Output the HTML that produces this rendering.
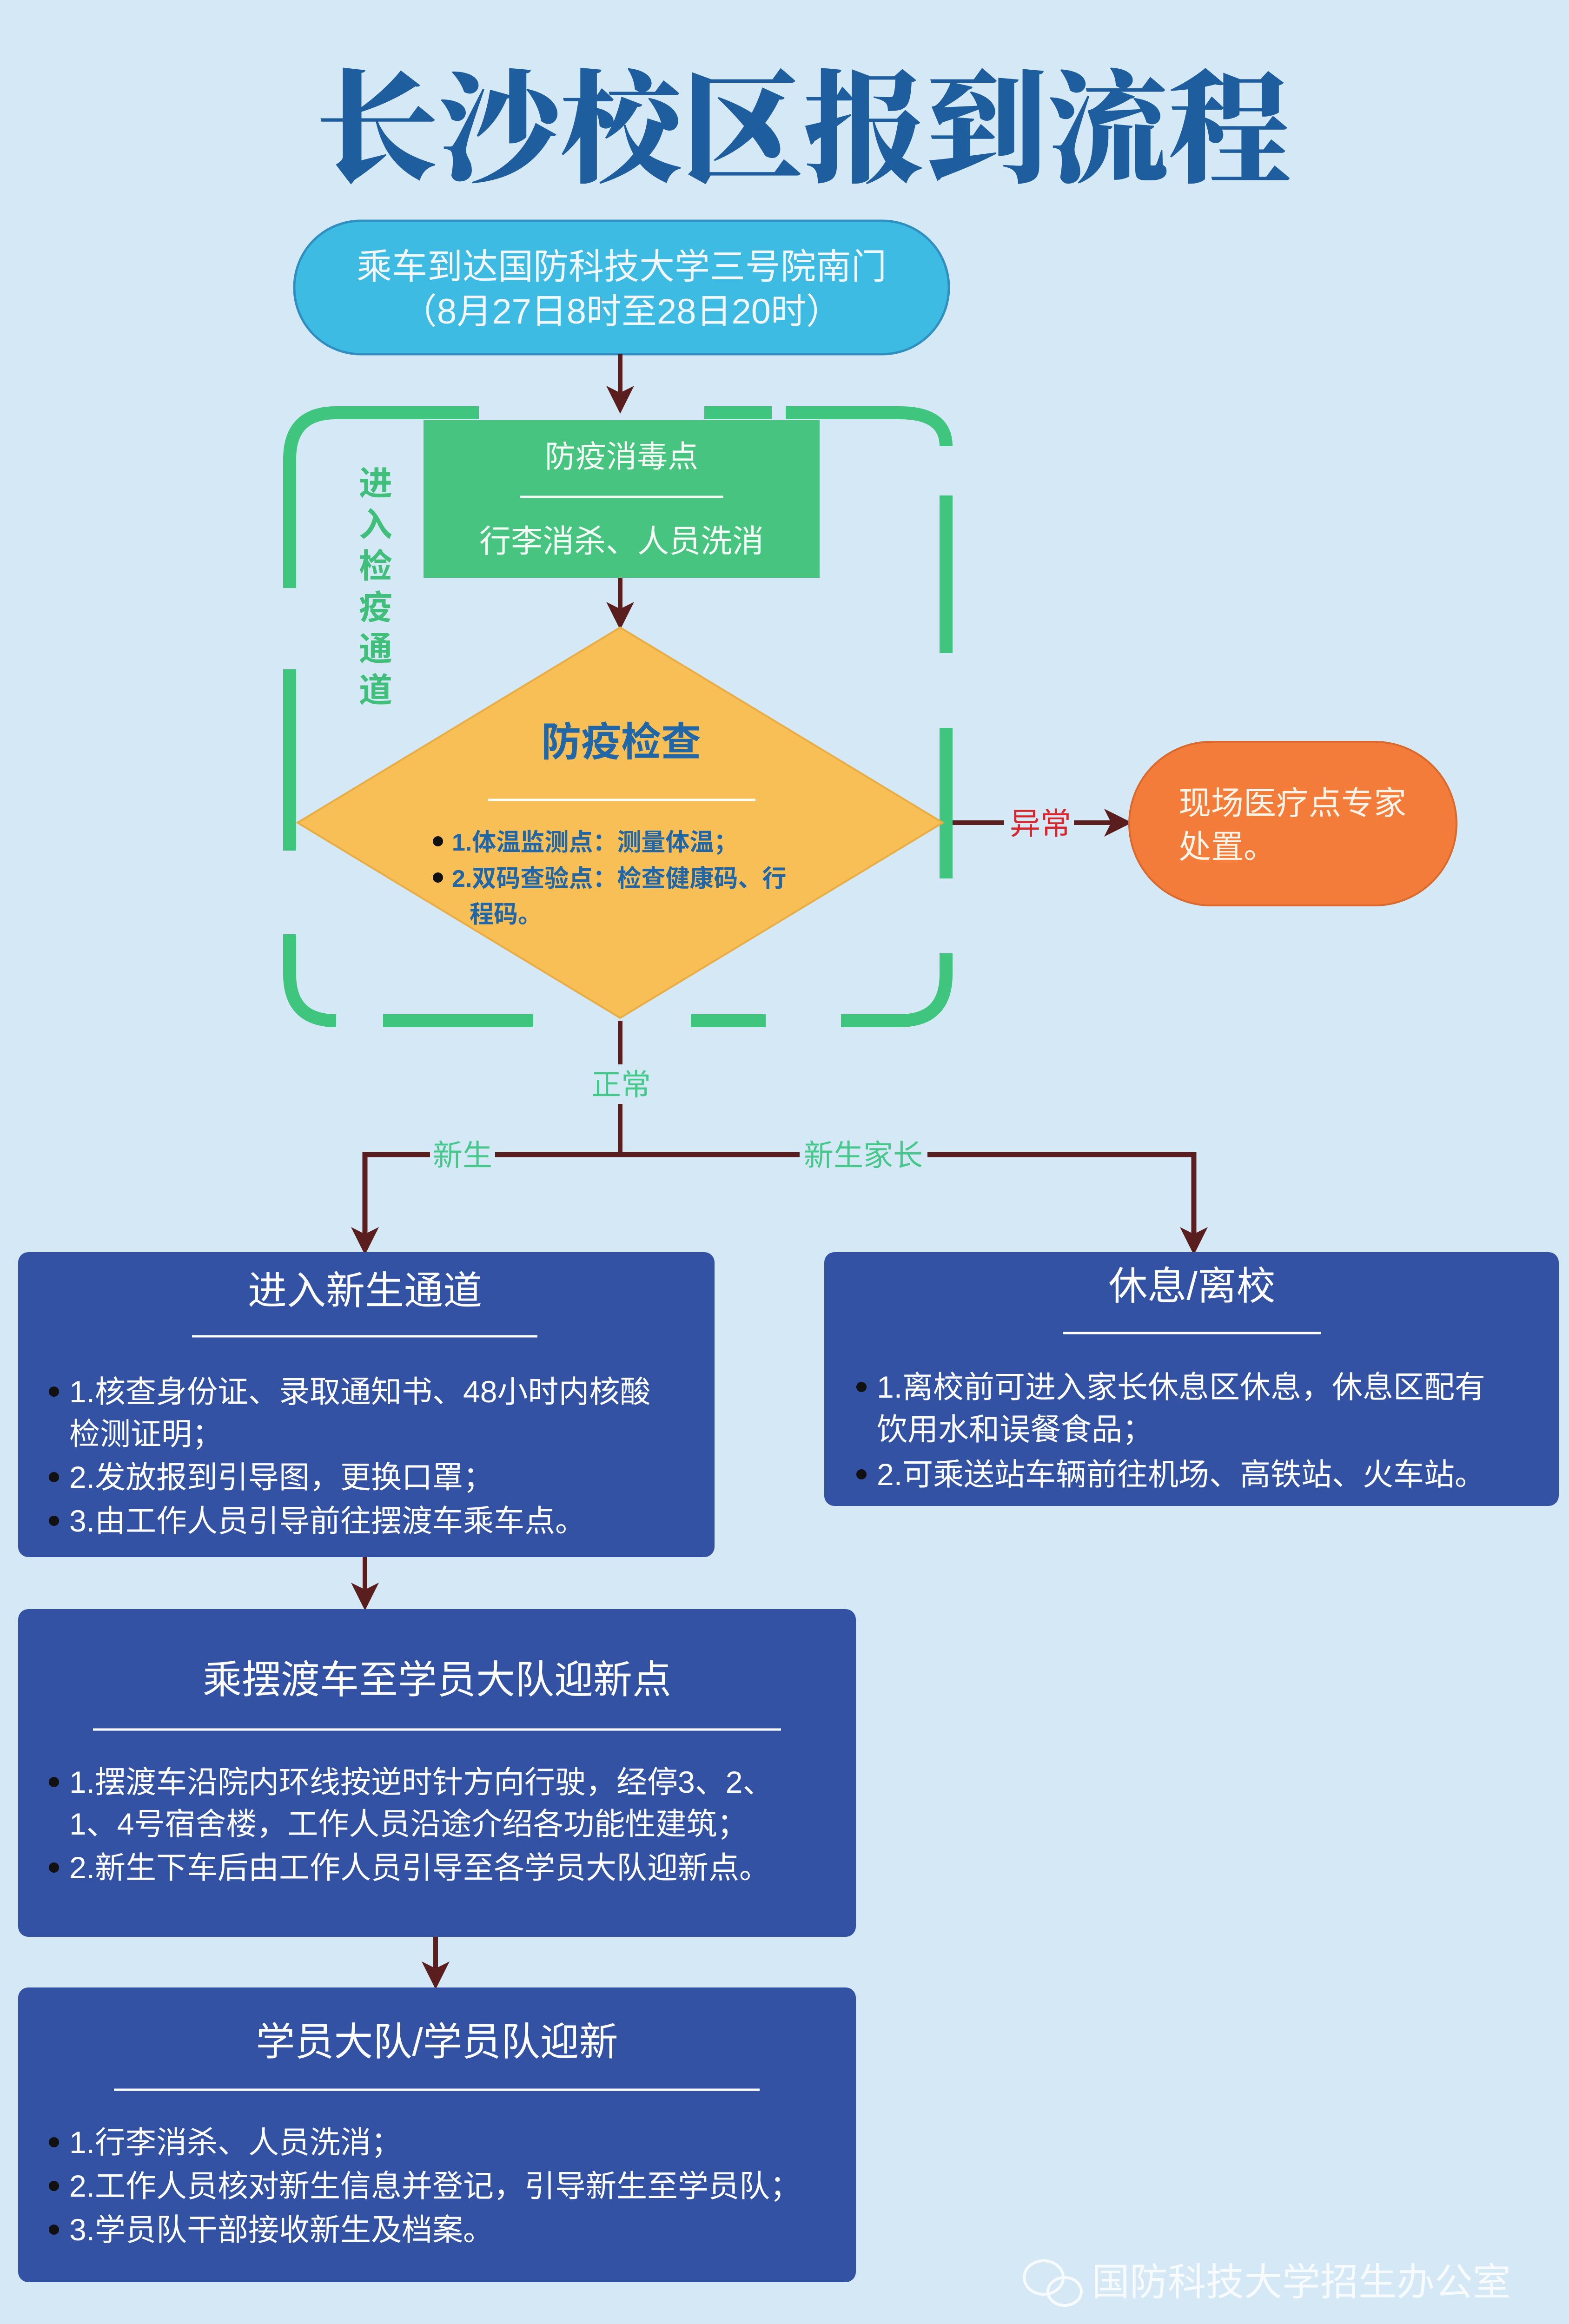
<!DOCTYPE html>
<html><head><meta charset="utf-8">
<style>
html,body{margin:0;padding:0;background:#d4e9f5;width:3375px;height:5062px;overflow:hidden;}
svg{display:block;}
text{font-family:"Liberation Sans","Noto Sans CJK SC",sans-serif;}
</style></head>
<body>
<svg width="3375" height="5062" viewBox="0 0 3375 5062" xmlns="http://www.w3.org/2000/svg">
<rect width="3375" height="5062" fill="#d4e9f5"/>
<defs>
<marker id="ah" markerWidth="6" markerHeight="6" refX="5" refY="3" orient="auto" markerUnits="strokeWidth">
<path d="M0,0 L6,3 L0,6 L1.5,3 z" fill="#5a1e1e"/></marker>
</defs>

<!-- Title -->
<text x="1728" y="370" text-anchor="middle" font-size="262" font-weight="900" fill="#1e5e9e" style="font-family:'Noto Serif CJK SC','Noto Sans CJK SC',serif">长沙校区报到流程</text>

<!-- Top pill -->
<rect x="633" y="475" width="1408" height="287" rx="143" fill="#3dbbe3" stroke="#2f8fc0" stroke-width="5"/>
<text x="1337" y="600" text-anchor="middle" font-size="76" fill="#f2f6ff">乘车到达国防科技大学三号院南门</text>
<text x="1337" y="696" text-anchor="middle" font-size="76" fill="#f2f6ff">（8月27日8时至28日20时）</text>

<!-- Arrows -->
<g stroke="#5a1e1e" stroke-width="10" fill="none">
<line x1="1334" y1="762" x2="1334" y2="880" marker-end="url(#ah)"/>
<line x1="1334" y1="1243" x2="1334" y2="1345" marker-end="url(#ah)"/>
<line x1="2028" y1="1770" x2="2425" y2="1770" marker-end="url(#ah)"/>
<line x1="1334" y1="2196" x2="1334" y2="2290"/>
<line x1="1334" y1="2375" x2="1334" y2="2484"/>
<polyline points="785,2690 785,2484 2568,2484 2568,2690" stroke-width="11"/>
<line x1="785" y1="2484" x2="785" y2="2690" marker-end="url(#ah)"/>
<line x1="2568" y1="2484" x2="2568" y2="2690" marker-end="url(#ah)"/>
<line x1="785" y1="3350" x2="785" y2="3455" marker-end="url(#ah)"/>
<line x1="937" y1="4167" x2="937" y2="4270" marker-end="url(#ah)"/>
</g>

<!-- Green dashed frame (hand-placed dashes) -->
<g fill="none" stroke="#3fc57d" stroke-width="28" stroke-linecap="butt">
<path d="M623,1265 L623,988 Q623,888 723,888 L1030,888"/>
<path d="M623,1440 L623,1830"/>
<path d="M623,2010 L623,2096 Q623,2196 723,2196 L700,2196"/>
<path d="M824,2196 L1147,2196"/>
<path d="M1486,2196 L1647,2196"/>
<path d="M1809,2196 L1935,2196 Q2035,2196 2035,2096 L2035,2051"/>
<path d="M2035,1890 L2035,1566"/>
<path d="M2035,1405 L2035,1066"/>
<path d="M1690,888 L1935,888 Q2035,888 2035,960"/>
<path d="M1515,888 L1660,888"/>
</g>

<!-- Green box -->
<rect x="911" y="904" width="852" height="339" fill="#47c47f"/>
<text x="1337" y="1005" text-anchor="middle" font-size="66" fill="#f4fff6">防疫消毒点</text>
<line x1="1118" y1="1069" x2="1556" y2="1069" stroke="#f4fff6" stroke-width="5"/>
<text x="1337" y="1188" text-anchor="middle" font-size="68" fill="#f4fff6">行李消杀、人员洗消</text>

<!-- Vertical label -->
<g font-size="72" font-weight="700" fill="#3fbf7a" text-anchor="middle">
<text x="808" y="1065">进</text>
<text x="808" y="1154">入</text>
<text x="808" y="1243">检</text>
<text x="808" y="1332">疫</text>
<text x="808" y="1421">通</text>
<text x="808" y="1510">道</text>
</g>

<!-- Diamond -->
<polygon points="1334,1350 2028,1770 1334,2190 640,1770" fill="#f8bf56" stroke="#e8ad45" stroke-width="4"/>
<text x="1336" y="1626" text-anchor="middle" font-size="86" font-weight="700" fill="#2166a6">防疫检查</text>
<line x1="1050" y1="1721" x2="1625" y2="1721" stroke="#fff" stroke-width="5"/>
<g font-size="52" font-weight="700" fill="#2166a6">
<circle cx="942" cy="1810" r="11" fill="#111"/>
<text x="972" y="1830">1.体温监测点：测量体温；</text>
<circle cx="942" cy="1888" r="11" fill="#111"/>
<text x="972" y="1908">2.双码查验点：检查健康码、行</text>
<text x="1010" y="1985">程码。</text>
</g>

<!-- 异常 -->
<rect x="2160" y="1725" width="150" height="90" fill="#d4e9f5"/>
<text x="2238" y="1795" text-anchor="middle" font-size="66" fill="#d9262c">异常</text>

<!-- Orange pill -->
<rect x="2429" y="1596" width="704" height="352" rx="176" fill="#f47c3a" stroke="#d9692c" stroke-width="4"/>
<text x="2535" y="1752" font-size="70" fill="#fff3e8">现场医疗点专家</text>
<text x="2535" y="1846" font-size="70" fill="#fff3e8">处置。</text>

<!-- labels -->
<text x="1336" y="2356" text-anchor="middle" font-size="64" fill="#45c88a">正常</text>
<rect x="925" y="2450" width="140" height="70" fill="#d4e9f5"/>
<text x="995" y="2508" text-anchor="middle" font-size="64" fill="#45c88a">新生</text>
<rect x="1720" y="2450" width="275" height="70" fill="#d4e9f5"/>
<text x="1857" y="2508" text-anchor="middle" font-size="64" fill="#45c88a">新生家长</text>

<!-- Box 1 -->
<rect x="39" y="2694" width="1498" height="656" rx="22" fill="#3452a4"/>
<text x="785" y="2806" text-anchor="middle" font-size="84" fill="#fff">进入新生通道</text>
<line x1="413" y1="2875" x2="1156" y2="2875" stroke="#fff" stroke-width="5"/>
<g font-size="66" fill="#fff">
<circle cx="116" cy="2994" r="11" fill="#111"/>
<text x="149" y="3017">1.核查身份证、录取通知书、48小时内核酸</text>
<text x="149" y="3108">检测证明；</text>
<circle cx="116" cy="3178" r="11" fill="#111"/>
<text x="149" y="3201">2.发放报到引导图，更换口罩；</text>
<circle cx="116" cy="3272" r="11" fill="#111"/>
<text x="149" y="3295">3.由工作人员引导前往摆渡车乘车点。</text>
</g>

<!-- Box 2 -->
<rect x="1773" y="2694" width="1580" height="546" rx="22" fill="#3452a4"/>
<text x="2564" y="2796" text-anchor="middle" font-size="84" fill="#fff">休息/离校</text>
<line x1="2287" y1="2868" x2="2842" y2="2868" stroke="#fff" stroke-width="5"/>
<g font-size="66" fill="#fff">
<circle cx="1853" cy="2984" r="11" fill="#111"/>
<text x="1886" y="3007">1.离校前可进入家长休息区休息，休息区配有</text>
<text x="1886" y="3098">饮用水和误餐食品；</text>
<circle cx="1853" cy="3172" r="11" fill="#111"/>
<text x="1886" y="3195">2.可乘送站车辆前往机场、高铁站、火车站。</text>
</g>

<!-- Box 3 -->
<rect x="39" y="3462" width="1802" height="705" rx="22" fill="#3452a4"/>
<text x="940" y="3643" text-anchor="middle" font-size="84" fill="#fff">乘摆渡车至学员大队迎新点</text>
<line x1="200" y1="3721" x2="1680" y2="3721" stroke="#fff" stroke-width="5"/>
<g font-size="66" fill="#fff">
<circle cx="116" cy="3834" r="11" fill="#111"/>
<text x="149" y="3857">1.摆渡车沿院内环线按逆时针方向行驶，经停3、2、</text>
<text x="149" y="3947">1、4号宿舍楼，工作人员沿途介绍各功能性建筑；</text>
<circle cx="116" cy="4018" r="11" fill="#111"/>
<text x="149" y="4041">2.新生下车后由工作人员引导至各学员大队迎新点。</text>
</g>

<!-- Box 4 -->
<rect x="39" y="4276" width="1802" height="634" rx="22" fill="#3452a4"/>
<text x="940" y="4422" text-anchor="middle" font-size="84" fill="#fff">学员大队/学员队迎新</text>
<line x1="245" y1="4496" x2="1634" y2="4496" stroke="#fff" stroke-width="5"/>
<g font-size="66" fill="#fff">
<circle cx="116" cy="4609" r="11" fill="#111"/>
<text x="149" y="4632">1.行李消杀、人员洗消；</text>
<circle cx="116" cy="4703" r="11" fill="#111"/>
<text x="149" y="4726">2.工作人员核对新生信息并登记，引导新生至学员队；</text>
<circle cx="116" cy="4797" r="11" fill="#111"/>
<text x="149" y="4820">3.学员队干部接收新生及档案。</text>
</g>

<!-- Watermark -->
<g fill="none" stroke="#ffffff" stroke-width="6" opacity="0.85">
<ellipse cx="2245" cy="4900" rx="42" ry="36"/>
<ellipse cx="2290" cy="4930" rx="36" ry="30"/>
</g>
<text x="2348" y="4938" font-size="82" fill="#ffffff" opacity="0.85">国防科技大学招生办公室</text>
</svg>
</body></html>
